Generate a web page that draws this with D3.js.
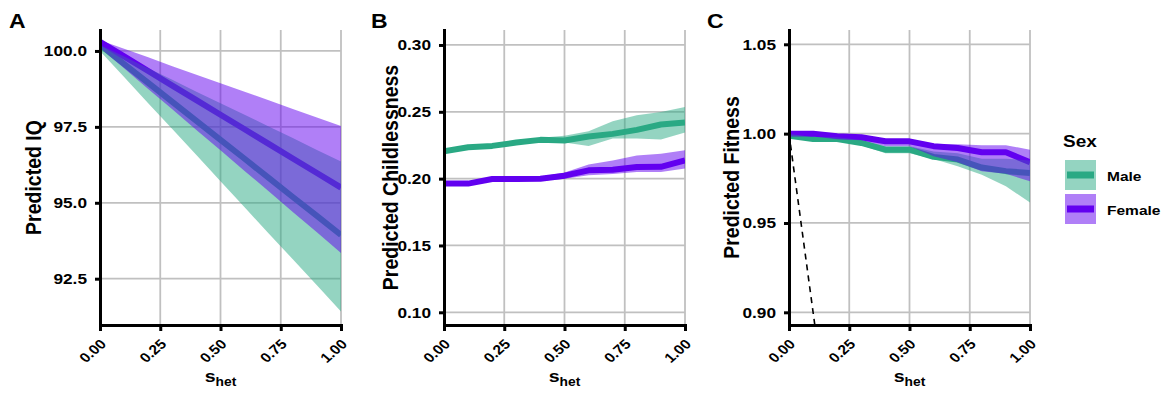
<!DOCTYPE html>
<html>
<head>
<meta charset="utf-8">
<script src="https://cdn.jsdelivr.net/npm/d3@7"></script>
<style>
  body { margin: 0; background: #fff; }
  text { font-family: "Liberation Sans", Arial, Helvetica, sans-serif; font-weight: bold; fill: #000; }
</style>
</head>
<body>
<svg id="chart" width="1169" height="393"></svg>
<script>
// s_het 取值
const sHet = [0, 0.1, 0.2, 0.3, 0.4, 0.5, 0.6, 0.7, 0.8, 0.9, 1.0];
const xTicks = [0, 0.25, 0.5, 0.75, 1];

// A: Predicted IQ
const iqMaleMean   = [100.2, 99.57, 98.95, 98.32, 97.70, 97.07, 96.45, 95.82, 95.19, 94.57, 93.94];
const iqMaleLow    = [100.0, 99.14, 98.28, 97.43, 96.57, 95.71, 94.85, 93.99, 93.14, 92.28, 91.42];
const iqMaleHigh   = [100.2, 99.82, 99.43, 99.05, 98.66, 98.28, 97.90, 97.51, 97.13, 96.74, 96.36];
const iqFemaleMean = [100.3, 99.82, 99.34, 98.86, 98.38, 97.90, 97.42, 96.94, 96.46, 95.98, 95.50];
const iqFemaleLow  = [100.1, 99.43, 98.75, 98.08, 97.40, 96.73, 96.05, 95.38, 94.70, 94.03, 93.35];
const iqFemaleHigh = [100.35, 100.07, 99.79, 99.50, 99.22, 98.94, 98.66, 98.38, 98.09, 97.81, 97.53];
const iqTicks = [92.5, 95, 97.5, 100];

// B: Predicted Childlessness
const chMaleMean   = [0.2205, 0.2235, 0.2245, 0.2270, 0.2290, 0.2285, 0.2315, 0.2335, 0.2365, 0.2405, 0.2420];
const chMaleLow    = [0.2190, 0.2220, 0.2230, 0.2255, 0.2275, 0.2270, 0.2245, 0.2300, 0.2300, 0.2292, 0.2345];
const chMaleHigh   = [0.2220, 0.2250, 0.2260, 0.2285, 0.2305, 0.2320, 0.2355, 0.2430, 0.2474, 0.2498, 0.2536];
const chFemaleMean = [0.1963, 0.1963, 0.1997, 0.1997, 0.1999, 0.2022, 0.2062, 0.2067, 0.2087, 0.2088, 0.2137];
const chFemaleLow  = [0.1950, 0.1950, 0.1985, 0.1985, 0.1985, 0.2000, 0.2025, 0.2035, 0.2050, 0.2050, 0.2075];
const chFemaleHigh = [0.1975, 0.1975, 0.2010, 0.2010, 0.2015, 0.2045, 0.2105, 0.2135, 0.2174, 0.2187, 0.2212];
const chTicks = [0.10, 0.15, 0.20, 0.25, 0.30];

// C: Predicted Fitness
const fitMaleMean   = [0.9989, 0.9970, 0.9970, 0.9948, 0.9910, 0.9910, 0.9870, 0.9855, 0.9810, 0.9790, 0.9780];
const fitMaleLow    = [0.9980, 0.9960, 0.9960, 0.9935, 0.9890, 0.9890, 0.9858, 0.9817, 0.9770, 0.9705, 0.9615];
const fitMaleHigh   = [1.0000, 0.9980, 0.9980, 0.9965, 0.9930, 0.9930, 0.9900, 0.9890, 0.9860, 0.9860, 0.9850];
const fitFemaleMean = [1.0000, 1.0000, 0.9985, 0.9980, 0.9957, 0.9957, 0.9930, 0.9920, 0.9896, 0.9896, 0.9840];
const fitFemaleLow  = [0.9990, 0.9990, 0.9970, 0.9965, 0.9930, 0.9930, 0.9873, 0.9840, 0.9790, 0.9776, 0.9733];
const fitFemaleHigh = [1.0010, 1.0010, 0.9995, 0.9990, 0.9970, 0.9970, 0.9940, 0.9940, 0.9935, 0.9935, 0.9910];
const fitTicks = [0.90, 0.95, 1.00, 1.05];
// 虚线 fitness = 1 - s_het
const fitRefX = [0, 1];
const fitRefY = [1, 0];

const sexLabels = ["Male", "Female"];

// 样式
const MALE = "#2AA984";
const FEMALE = "#6200F0";
const SX = 1.15;          // 原图文字横向拉伸
const PLOT_TOP = 30;
const PLOT_BOTTOM = 325;
const PLOT_W = 241;

const svg = d3.select("#chart");

function zip(lo, hi) { return lo.map((d, i) => [d, hi[i]]); }

function drawPanel(p) {
    const x = d3.scaleLinear().domain([0, 1]).range([p.left, p.left + PLOT_W]);
    const y = d3.scaleLinear().domain(p.yDomain).range([PLOT_BOTTOM, PLOT_TOP]);
    const g = svg.append("g");

    // 网格线
    g.selectAll("line.vgrid").data(xTicks).enter().append("line")
        .attr("x1", d => x(d)).attr("x2", d => x(d))
        .attr("y1", PLOT_TOP).attr("y2", PLOT_BOTTOM)
        .attr("stroke", "#c0c0c0").attr("stroke-width", 1.8);
    g.selectAll("line.hgrid").data(p.yTicks).enter().append("line")
        .attr("x1", p.left).attr("x2", p.left + PLOT_W)
        .attr("y1", d => y(d)).attr("y2", d => y(d))
        .attr("stroke", "#c0c0c0").attr("stroke-width", 1.8);

    // 裁剪区域
    const clipId = "clip-" + p.letter;
    svg.append("clipPath").attr("id", clipId).append("rect")
        .attr("x", p.left).attr("y", PLOT_TOP)
        .attr("width", PLOT_W).attr("height", PLOT_BOTTOM - PLOT_TOP);
    const plot = g.append("g").attr("clip-path", `url(#${clipId})`);

    const line = d3.line().x((d, i) => x(sHet[i])).y(d => y(d));
    const area = d3.area().x((d, i) => x(sHet[i])).y0(d => y(d[0])).y1(d => y(d[1]));

    // 先画线，再画半透明置信带
    p.series.forEach(s => {
        plot.append("path").attr("d", line(s.mean))
            .attr("fill", "none").attr("stroke", s.color)
            .attr("stroke-width", 6).attr("stroke-linejoin", "round");
    });
    p.series.forEach(s => {
        plot.append("path").attr("d", area(zip(s.low, s.high)))
            .attr("fill", s.color).attr("fill-opacity", 0.5);
    });

    if (p.refX) {
        const ref = d3.line().x(d => x(d[0])).y(d => y(d[1]));
        plot.append("path").attr("d", ref(p.refX.map((d, i) => [d, p.refY[i]])))
            .attr("fill", "none").attr("stroke", "#000")
            .attr("stroke-width", 1.6).attr("stroke-dasharray", "6,5");
    }

    // 坐标轴
    const yAxis = g.append("g").attr("transform", `translate(${p.left},0)`)
        .call(d3.axisLeft(y).tickValues(p.yTicks).tickSize(5).tickSizeOuter(0).tickFormat(""));
    const xAxis = g.append("g").attr("transform", `translate(0,${PLOT_BOTTOM})`)
        .call(d3.axisBottom(x).tickValues(xTicks).tickSize(6).tickSizeOuter(0).tickFormat(""));
    [yAxis, xAxis].forEach(a => {
        a.select(".domain").attr("stroke", "#000").attr("stroke-width", 3).attr("stroke-linecap", "square");
        a.selectAll(".tick line").attr("stroke", "#000").attr("stroke-width", 3);
    });

    // 刻度标签
    const fmt = d3.format(p.fmt);
    g.selectAll("text.ylab").data(p.yTicks).enter().append("text")
        .attr("transform", d => `translate(${p.left - 13},${y(d)}) scale(${SX},1)`)
        .attr("dy", "0.36em").attr("text-anchor", "end")
        .attr("font-size", "15px").text(d => fmt(d));
    g.selectAll("text.xlab").data(xTicks).enter().append("text")
        .attr("transform", d => `translate(${x(d) + 7},345) scale(${SX},1) rotate(-45)`)
        .attr("text-anchor", "end").attr("font-size", "13.5px")
        .text(d => d3.format(".2f")(d));

    // 轴标题
    g.append("text")
        .attr("transform", `translate(${p.titleX},${(PLOT_TOP + PLOT_BOTTOM) / 2}) scale(${SX},1) rotate(-90)`)
        .attr("text-anchor", "middle").attr("font-size", "19.5px").text(p.title);
    const xt = g.append("text")
        .attr("transform", `translate(${p.left + PLOT_W / 2},382) scale(${SX},1)`)
        .attr("text-anchor", "middle");
    xt.append("tspan").attr("font-size", "17px").text("s");
    xt.append("tspan").attr("font-size", "12px").attr("dy", 4).text("het");

    // 面板字母
    g.append("text")
        .attr("transform", `translate(${p.letterX},28) scale(${SX},1)`)
        .attr("font-size", "20px").text(p.letter);
}

const panels = [
    { letter: "A", letterX: 9, left: 100, yDomain: [90.975, 100.69], yTicks: iqTicks, fmt: ".1f",
      title: "Predicted IQ", titleX: 41,
      series: [
          { color: MALE, mean: iqMaleMean, low: iqMaleLow, high: iqMaleHigh },
          { color: FEMALE, mean: iqFemaleMean, low: iqFemaleLow, high: iqFemaleHigh }
      ] },
    { letter: "B", letterX: 371, left: 444, yDomain: [0.0905, 0.3112], yTicks: chTicks, fmt: ".2f",
      title: "Predicted Childlessness", titleX: 398,
      series: [
          { color: MALE, mean: chMaleMean, low: chMaleLow, high: chMaleHigh },
          { color: FEMALE, mean: chFemaleMean, low: chFemaleLow, high: chFemaleHigh }
      ] },
    { letter: "C", letterX: 707, left: 789, yDomain: [0.8929, 1.058], yTicks: fitTicks, fmt: ".2f",
      title: "Predicted Fitness", titleX: 739, refX: fitRefX, refY: fitRefY,
      series: [
          { color: MALE, mean: fitMaleMean, low: fitMaleLow, high: fitMaleHigh },
          { color: FEMALE, mean: fitFemaleMean, low: fitFemaleLow, high: fitFemaleHigh }
      ] }
];

panels.forEach(drawPanel);

// 图例
const legend = svg.append("g");
legend.append("text")
    .attr("transform", `translate(1063,147) scale(${SX},1)`)
    .attr("font-size", "16.5px").text("Sex");
const keys = legend.selectAll("g.key").data(sexLabels).enter().append("g")
    .attr("transform", (d, i) => `translate(1065,${160 + i * 34})`);
keys.append("rect").attr("width", 31).attr("height", 30)
    .attr("fill", (d, i) => i === 0 ? MALE : FEMALE).attr("fill-opacity", 0.5);
keys.append("line").attr("x1", 2).attr("x2", 29).attr("y1", 15).attr("y2", 15)
    .attr("stroke", (d, i) => i === 0 ? MALE : FEMALE).attr("stroke-width", 7);
keys.append("text")
    .attr("transform", `translate(42,20.5) scale(${SX},1)`)
    .attr("font-size", "13.5px").text(d => d);
</script>
</body>
</html>
